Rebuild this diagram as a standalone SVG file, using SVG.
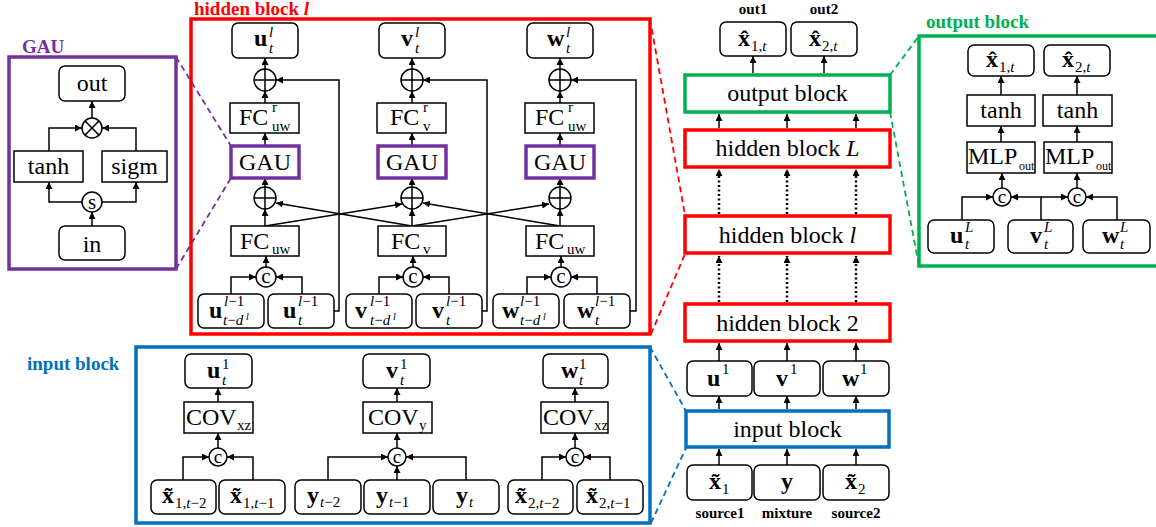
<svg xmlns="http://www.w3.org/2000/svg" width="1156" height="527" viewBox="0 0 1156 527">
<defs>
<marker id="ah" viewBox="0 0 10 10" refX="10" refY="5" markerWidth="7" markerHeight="7" markerUnits="userSpaceOnUse" orient="auto"><path d="M0,0 L10,5 L0,10 z" fill="#000"/></marker>
<style>
text{font-family:"Liberation Serif","Times New Roman",serif;fill:#000}
.bx{fill:#fff;stroke:#000;stroke-width:1.5}
.ln{fill:none;stroke:#000;stroke-width:1.5}
.ar{fill:none;stroke:#000;stroke-width:1.5;marker-end:url(#ah)}
.dt{fill:none;stroke:#000;stroke-width:2.5;stroke-dasharray:2 2.5;marker-end:url(#ah)}
.cir{fill:#fff;stroke:#000;stroke-width:1.5}
.m{font-size:24px}
.c{text-anchor:middle}
.bd{font-weight:bold}
.s{font-size:15px}
.ss{font-size:10px}
.it{font-style:italic}
.red{fill:none;stroke:#FF0000;stroke-width:3.5}
.grn{fill:none;stroke:#00B050;stroke-width:3.5}
.blu{fill:none;stroke:#0070C0;stroke-width:3.5}
.pur{fill:none;stroke:#7030A0;stroke-width:3.5}
.gaub{fill:#fff;stroke:#7030A0;stroke-width:3.5}
.dr{fill:none;stroke:#FF0000;stroke-width:1.8;stroke-dasharray:6 4}
.dg{fill:none;stroke:#00B050;stroke-width:1.8;stroke-dasharray:6 4}
.db{fill:none;stroke:#0070C0;stroke-width:1.8;stroke-dasharray:6 4}
.dp{fill:none;stroke:#7030A0;stroke-width:1.8;stroke-dasharray:6 4}
.ttl{font-size:19px;font-weight:bold}
.lab{font-size:15px;font-weight:bold;text-anchor:middle}
</style>
</defs>

<!-- connectors -->
<g id="connectors">
  <path class="dp" d="M176,57 L231,146 M176,269 L231,178"/>
  <path class="dr" d="M650,19 L685,215 M651,334 L685,254"/>
  <path class="dg" d="M890,75 L919,36 M890,112 L919,266"/>
  <path class="db" d="M650,347 L686,411 M651,523 L686,448"/>

  <path class="ar" d="M92,226 V212"/>
  <path class="ar" d="M82,202 H49 V182"/>
  <path class="ar" d="M102,202 H136 V182"/>
  <path class="ar" d="M49,151 V128 H82"/>
  <path class="ar" d="M136,151 V128 H102"/>
  <path class="ar" d="M92,118 V101"/>

  <path class="ar" d="M265,69 V58"/>
  <path class="ar" d="M265,103 V91"/>
  <path class="ar" d="M265,146 V133"/>
  <path class="ar" d="M265,187 V178"/>
  <path class="ar" d="M265,226 V209"/>
  <path class="ar" d="M266,267 V256"/>
  <path class="ar" d="M231,294 V277 H256"/>
  <path class="ar" d="M302,294 V277 H276"/>
  <path class="ar" d="M334,311 H339 V80 H276"/>
  <path class="ar" d="M412,69 V58"/>
  <path class="ar" d="M412,103 V91"/>
  <path class="ar" d="M412,146 V133"/>
  <path class="ar" d="M412,187 V178"/>
  <path class="ar" d="M412,226 V209"/>
  <path class="ar" d="M413,267 V256"/>
  <path class="ar" d="M379,294 V277 H403"/>
  <path class="ar" d="M449,294 V277 H423"/>
  <path class="ar" d="M482,311 H487 V80 H423"/>
  <path class="ar" d="M560,69 V58"/>
  <path class="ar" d="M560,103 V91"/>
  <path class="ar" d="M560,146 V133"/>
  <path class="ar" d="M560,187 V178"/>
  <path class="ar" d="M560,226 V209"/>
  <path class="ar" d="M561,267 V256"/>
  <path class="ar" d="M527,294 V277 H551"/>
  <path class="ar" d="M597,294 V277 H571"/>
  <path class="ar" d="M630,311 H636 V80 H571"/>
  <path class="ar" d="M265,226 L402,204"/>
  <path class="ar" d="M412,226 L276,203"/>
  <path class="ar" d="M412,226 L549,204"/>
  <path class="ar" d="M560,226 L423,203"/>

  <path class="ar" d="M218,448 V433"/>
  <path class="ar" d="M218,402 V388"/>
  <path class="ar" d="M183,480 V457 H209"/>
  <path class="ar" d="M253,480 V457 H227"/>
  <path class="ar" d="M397,448 V433"/>
  <path class="ar" d="M397,402 V388"/>
  <path class="ar" d="M328,480 V457 H388"/>
  <path class="ar" d="M397,480 V466"/>
  <path class="ar" d="M466,480 V457 H406"/>
  <path class="ar" d="M575,448 V433"/>
  <path class="ar" d="M575,402 V388"/>
  <path class="ar" d="M542,480 V457 H566"/>
  <path class="ar" d="M610,480 V457 H584"/>

  <path class="ar" d="M719,465 V449"/>
  <path class="ar" d="M787,465 V449"/>
  <path class="ar" d="M856,465 V449"/>
  <path class="ar" d="M719,409 V396"/>
  <path class="ar" d="M787,409 V396"/>
  <path class="ar" d="M856,409 V396"/>
  <path class="ar" d="M719,361 V343"/>
  <path class="ar" d="M787,361 V343"/>
  <path class="ar" d="M856,361 V343"/>
  <path class="dt" d="M719,302 V256"/>
  <path class="dt" d="M787,302 V256"/>
  <path class="dt" d="M856,302 V256"/>
  <path class="dt" d="M719,214 V169"/>
  <path class="dt" d="M787,214 V169"/>
  <path class="dt" d="M856,214 V169"/>
  <path class="ar" d="M719,128 V114"/>
  <path class="ar" d="M787,128 V114"/>
  <path class="ar" d="M856,128 V114"/>
  <path class="ar" d="M753,73 V56"/>
  <path class="ar" d="M824,73 V56"/>

  <path class="ar" d="M962,220 V197 H993"/>
  <path class="ar" d="M1041,220 V197 H1011"/>
  <path class="ar" d="M1041,197 H1068"/>
  <path class="ar" d="M1117,220 V197 H1086"/>
  <path class="ar" d="M1002,188 V173"/>
  <path class="ar" d="M1077,188 V173"/>
  <path class="ar" d="M1001,142 V126"/>
  <path class="ar" d="M1077,142 V126"/>
  <path class="ar" d="M1001,95 V76"/>
  <path class="ar" d="M1077,95 V76"/>
</g>

<g id="gau-detail">
  <rect class="pur" x="9" y="57" width="167" height="212"/>
  <text x="22" y="53" class="ttl" style="fill:#7030A0">GAU</text>
  <rect class="bx" x="59" y="66" width="66" height="35" rx="6"/>
  <text x="92" y="91" class="m c">out</text>
  <g id="gau-mul"><circle class="cir" cx="92" cy="128" r="10"/><path class="ln" d="M85,121 L99,135 M99,121 L85,135"/></g>
  <rect class="bx" x="14" y="151" width="69" height="31"/>
  <text x="48.5" y="174" class="m c">tanh</text>
  <rect class="bx" x="102" y="151" width="65" height="31"/>
  <text x="134.5" y="174" class="m c">sigm</text>
  <g id="gau-s"><circle class="cir" cx="92" cy="202" r="10"/><text x="92" y="209" class="c" style="font-size:21px">s</text></g>
  <rect class="bx" x="59" y="226" width="66" height="34" rx="6"/>
  <text x="92" y="252" class="m c">in</text>
</g>

<g id="hidden-detail">
  <rect class="red" x="191" y="19" width="459" height="315"/>
  <text x="194" y="15" class="ttl" style="fill:#FF0000">hidden block <tspan class="it">l</tspan></text>

  <g id="h-u-out"><rect class="bx" x="232" y="23" width="66" height="35" rx="6"/>
    <text x="254" y="46" class="m bd">u</text><text x="269" y="37" class="s it">l</text><text x="269" y="53" class="s it">t</text></g>
  <g id="h-u-add1"><circle class="cir" cx="265" cy="80" r="11"/><path class="ln" d="M254,80 H276 M265,69 V91"/></g>
  <g id="h-u-fcr"><rect class="bx" x="230" y="103" width="69" height="30"/>
    <text x="239" y="125" class="m">FC</text><text x="272" y="112" class="s">r</text><text x="272" y="131" class="s">uw</text></g>
  <g id="h-u-gau"><rect class="gaub" x="231" y="146" width="68" height="32"/><text x="265" y="170" class="m c">GAU</text></g>
  <g id="h-u-add2"><circle class="cir" cx="265" cy="198" r="11"/><path class="ln" d="M254,198 H276 M265,187 V209"/></g>
  <g id="h-u-fc"><rect class="bx" x="231" y="226" width="68" height="30"/>
    <text x="240" y="249" class="m">FC</text><text x="272" y="254" class="s">uw</text></g>
  <g id="h-u-cat"><circle class="cir" cx="266" cy="277" r="10"/><text x="266" y="283" class="c" style="font-size:21px">c</text></g>
  <g id="h-u-prev"><rect class="bx" x="198" y="294" width="66" height="34" rx="6"/>
    <text x="209" y="318" class="m bd">u</text><text x="224" y="306" class="s"><tspan class="it">l</tspan>−1</text><text x="223" y="325" class="s"><tspan class="it">t</tspan>−<tspan class="it">d</tspan></text><text x="246" y="320" class="ss it">l</text></g>
  <g id="h-u-cur"><rect class="bx" x="268" y="294" width="66" height="34" rx="6"/>
    <text x="283" y="318" class="m bd">u</text><text x="298" y="306" class="s"><tspan class="it">l</tspan>−1</text><text x="298" y="325" class="s it">t</text></g>

  <g id="h-v-out"><rect class="bx" x="379" y="23" width="66" height="35" rx="6"/>
    <text x="401" y="46" class="m bd">v</text><text x="415" y="37" class="s it">l</text><text x="415" y="53" class="s it">t</text></g>
  <g id="h-v-add1"><circle class="cir" cx="412" cy="80" r="11"/><path class="ln" d="M401,80 H423 M412,69 V91"/></g>
  <g id="h-v-fcr"><rect class="bx" x="377" y="103" width="69" height="30"/>
    <text x="390" y="125" class="m">FC</text><text x="423" y="112" class="s">r</text><text x="423" y="131" class="s">v</text></g>
  <g id="h-v-gau"><rect class="gaub" x="378" y="146" width="68" height="32"/><text x="412" y="170" class="m c">GAU</text></g>
  <g id="h-v-add2"><circle class="cir" cx="412" cy="198" r="11"/><path class="ln" d="M401,198 H423 M412,187 V209"/></g>
  <g id="h-v-fc"><rect class="bx" x="378" y="226" width="68" height="30"/>
    <text x="391" y="249" class="m">FC</text><text x="423" y="254" class="s">v</text></g>
  <g id="h-v-cat"><circle class="cir" cx="413" cy="277" r="10"/><text x="413" y="283" class="c" style="font-size:21px">c</text></g>
  <g id="h-v-prev"><rect class="bx" x="346" y="294" width="66" height="34" rx="6"/>
    <text x="355" y="318" class="m bd">v</text><text x="370" y="306" class="s"><tspan class="it">l</tspan>−1</text><text x="370" y="325" class="s"><tspan class="it">t</tspan>−<tspan class="it">d</tspan></text><text x="393" y="320" class="ss it">l</text></g>
  <g id="h-v-cur"><rect class="bx" x="416" y="294" width="66" height="34" rx="6"/>
    <text x="432" y="318" class="m bd">v</text><text x="446" y="306" class="s"><tspan class="it">l</tspan>−1</text><text x="446" y="325" class="s it">t</text></g>

  <g id="h-w-out"><rect class="bx" x="527" y="23" width="66" height="35" rx="6"/>
    <text x="547" y="46" class="m bd">w</text><text x="566" y="37" class="s it">l</text><text x="566" y="53" class="s it">t</text></g>
  <g id="h-w-add1"><circle class="cir" cx="560" cy="80" r="11"/><path class="ln" d="M549,80 H571 M560,69 V91"/></g>
  <g id="h-w-fcr"><rect class="bx" x="525" y="103" width="69" height="30"/>
    <text x="535" y="125" class="m">FC</text><text x="568" y="112" class="s">r</text><text x="568" y="131" class="s">uw</text></g>
  <g id="h-w-gau"><rect class="gaub" x="526" y="146" width="68" height="32"/><text x="560" y="170" class="m c">GAU</text></g>
  <g id="h-w-add2"><circle class="cir" cx="560" cy="198" r="11"/><path class="ln" d="M549,198 H571 M560,187 V209"/></g>
  <g id="h-w-fc"><rect class="bx" x="526" y="226" width="68" height="30"/>
    <text x="535" y="249" class="m">FC</text><text x="567" y="254" class="s">uw</text></g>
  <g id="h-w-cat"><circle class="cir" cx="561" cy="277" r="10"/><text x="561" y="283" class="c" style="font-size:21px">c</text></g>
  <g id="h-w-prev"><rect class="bx" x="493" y="294" width="66" height="34" rx="6"/>
    <text x="502" y="318" class="m bd">w</text><text x="520" y="306" class="s"><tspan class="it">l</tspan>−1</text><text x="520" y="325" class="s"><tspan class="it">t</tspan>−<tspan class="it">d</tspan></text><text x="543" y="320" class="ss it">l</text></g>
  <g id="h-w-cur"><rect class="bx" x="564" y="294" width="66" height="34" rx="6"/>
    <text x="577" y="318" class="m bd">w</text><text x="595" y="306" class="s"><tspan class="it">l</tspan>−1</text><text x="595" y="325" class="s it">t</text></g>
</g>

<g id="input-detail">
  <rect class="blu" x="136" y="347" width="514" height="176"/>
  <text x="27" y="370" class="ttl" style="fill:#0070C0">input block</text>

  <g id="i-u-out"><rect class="bx" x="185" y="354" width="67" height="34" rx="6"/>
    <text x="207" y="378" class="m bd">u</text><text x="222" y="369" class="s">1</text><text x="222" y="385" class="s it">t</text></g>
  <g id="i-u-cov"><rect class="bx" x="184" y="402" width="69" height="31"/>
    <text x="186" y="425" class="m">COV</text><text x="237" y="430" class="s">xz</text></g>
  <g id="i-u-cat"><circle class="cir" cx="218" cy="457" r="9"/><text x="218" y="463" class="c" style="font-size:19px">c</text></g>
  <g id="i-u-a"><rect class="bx" x="151" y="480" width="65" height="34" rx="6"/>
    <text x="162" y="503" class="m bd">x̃</text><text x="175" y="508" class="s">1,<tspan class="it">t</tspan>−2</text></g>
  <g id="i-u-b"><rect class="bx" x="219" y="480" width="66" height="34" rx="6"/>
    <text x="230" y="503" class="m bd">x̃</text><text x="243" y="508" class="s">1,<tspan class="it">t</tspan>−1</text></g>

  <g id="i-v-out"><rect class="bx" x="363" y="354" width="67" height="34" rx="6"/>
    <text x="386" y="378" class="m bd">v</text><text x="400" y="369" class="s">1</text><text x="400" y="385" class="s it">t</text></g>
  <g id="i-v-cov"><rect class="bx" x="363" y="402" width="69" height="31"/>
    <text x="368" y="425" class="m">COV</text><text x="419" y="430" class="s">y</text></g>
  <g id="i-v-cat"><circle class="cir" cx="397" cy="457" r="9"/><text x="397" y="463" class="c" style="font-size:19px">c</text></g>
  <g id="i-v-a"><rect class="bx" x="295" y="480" width="66" height="34" rx="6"/>
    <text x="307" y="503" class="m bd">y</text><text x="320" y="507" class="s"><tspan class="it">t</tspan>−2</text></g>
  <g id="i-v-b"><rect class="bx" x="364" y="480" width="66" height="34" rx="6"/>
    <text x="376" y="503" class="m bd">y</text><text x="389" y="507" class="s"><tspan class="it">t</tspan>−1</text></g>
  <g id="i-v-c"><rect class="bx" x="433" y="480" width="66" height="34" rx="6"/>
    <text x="456" y="503" class="m bd">y</text><text x="469" y="507" class="s it">t</text></g>

  <g id="i-w-out"><rect class="bx" x="543" y="354" width="65" height="34" rx="6"/>
    <text x="561" y="378" class="m bd">w</text><text x="579" y="369" class="s">1</text><text x="579" y="385" class="s it">t</text></g>
  <g id="i-w-cov"><rect class="bx" x="541" y="402" width="67" height="31"/>
    <text x="543" y="425" class="m">COV</text><text x="594" y="430" class="s">xz</text></g>
  <g id="i-w-cat"><circle class="cir" cx="575" cy="457" r="9"/><text x="575" y="463" class="c" style="font-size:19px">c</text></g>
  <g id="i-w-a"><rect class="bx" x="508" y="480" width="65" height="34" rx="6"/>
    <text x="515" y="503" class="m bd">x̃</text><text x="528" y="508" class="s">2,<tspan class="it">t</tspan>−2</text></g>
  <g id="i-w-b"><rect class="bx" x="577" y="480" width="66" height="34" rx="6"/>
    <text x="586" y="503" class="m bd">x̃</text><text x="599" y="508" class="s">2,<tspan class="it">t</tspan>−1</text></g>
</g>

<g id="network">
  <text x="753" y="14" class="lab">out1</text>
  <text x="824" y="14" class="lab">out2</text>
  <g id="n-out1"><rect class="bx" x="720" y="22" width="66" height="34" rx="6"/>
    <text x="738" y="46" class="m bd">x̂</text><text x="751" y="51" class="s">1,<tspan class="it">t</tspan></text></g>
  <g id="n-out2"><rect class="bx" x="791" y="22" width="66" height="34" rx="6"/>
    <text x="809" y="46" class="m bd">x̂</text><text x="822" y="51" class="s">2,<tspan class="it">t</tspan></text></g>
  <g id="n-output"><rect class="grn" x="685" y="75" width="205" height="37" style="fill:#fff"/>
    <text x="787.5" y="101" class="m c">output block</text></g>
  <g id="n-hL"><rect class="red" x="685" y="130" width="205" height="37" style="fill:#fff"/>
    <text x="787.5" y="156" class="m c">hidden block <tspan class="it">L</tspan></text></g>
  <g id="n-hl"><rect class="red" x="685" y="216" width="205" height="37" style="fill:#fff"/>
    <text x="787.5" y="243" class="m c">hidden block <tspan class="it">l</tspan></text></g>
  <g id="n-h2"><rect class="red" x="685" y="304" width="205" height="37" style="fill:#fff"/>
    <text x="787.5" y="331" class="m c">hidden block 2</text></g>
  <g id="n-u1"><rect class="bx" x="687" y="361" width="65" height="35" rx="6"/>
    <text x="707" y="386" class="m bd">u</text><text x="722" y="374" class="s">1</text></g>
  <g id="n-v1"><rect class="bx" x="754" y="361" width="66" height="35" rx="6"/>
    <text x="776" y="386" class="m bd">v</text><text x="790" y="374" class="s">1</text></g>
  <g id="n-w1"><rect class="bx" x="823" y="361" width="66" height="35" rx="6"/>
    <text x="842" y="386" class="m bd">w</text><text x="860" y="374" class="s">1</text></g>
  <g id="n-input"><rect class="blu" x="686" y="411" width="203" height="36" style="fill:#fff"/>
    <text x="787.5" y="437" class="m c">input block</text></g>
  <g id="n-s1"><rect class="bx" x="687" y="465" width="65" height="35" rx="6"/>
    <text x="709" y="489" class="m bd">x̃</text><text x="722" y="494" class="s">1</text></g>
  <g id="n-mix"><rect class="bx" x="754" y="465" width="66" height="35" rx="6"/>
    <text x="787" y="489" class="m bd c">y</text></g>
  <g id="n-s2"><rect class="bx" x="823" y="465" width="66" height="35" rx="6"/>
    <text x="845" y="489" class="m bd">x̃</text><text x="858" y="494" class="s">2</text></g>
  <text x="720" y="518" class="lab">source1</text>
  <text x="787" y="518" class="lab">mixture</text>
  <text x="856" y="518" class="lab">source2</text>
</g>

<g id="output-detail">
  <rect class="grn" x="919" y="36" width="250" height="230"/>
  <text x="926" y="28" class="ttl" style="fill:#00B050">output block</text>
  <g id="o-x1"><rect class="bx" x="968" y="45" width="66" height="31" rx="6"/>
    <text x="986" y="67" class="m bd">x̂</text><text x="999" y="72" class="s">1,<tspan class="it">t</tspan></text></g>
  <g id="o-x2"><rect class="bx" x="1044" y="45" width="66" height="31" rx="6"/>
    <text x="1062" y="67" class="m bd">x̂</text><text x="1075" y="72" class="s">2,<tspan class="it">t</tspan></text></g>
  <g id="o-tanh1"><rect class="bx" x="967" y="95" width="68" height="31"/><text x="1001" y="118" class="m c">tanh</text></g>
  <g id="o-tanh2"><rect class="bx" x="1043" y="95" width="69" height="31"/><text x="1077.5" y="118" class="m c">tanh</text></g>
  <g id="o-mlp1"><rect class="bx" x="967" y="142" width="68" height="31"/>
    <text x="968" y="164" class="m">MLP</text><text x="1019" y="170" style="font-size:12px">out</text></g>
  <g id="o-mlp2"><rect class="bx" x="1044" y="142" width="68" height="31"/>
    <text x="1045" y="164" class="m">MLP</text><text x="1096" y="170" style="font-size:12px">out</text></g>
  <g id="o-cat1"><circle class="cir" cx="1002" cy="197" r="9"/><text x="1002" y="203" class="c" style="font-size:19px">c</text></g>
  <g id="o-cat2"><circle class="cir" cx="1077" cy="197" r="9"/><text x="1077" y="203" class="c" style="font-size:19px">c</text></g>
  <g id="o-u"><rect class="bx" x="928" y="220" width="66" height="33" rx="6"/>
    <text x="950" y="243" class="m bd">u</text><text x="965" y="232" class="s it">L</text><text x="965" y="249" class="s it">t</text></g>
  <g id="o-v"><rect class="bx" x="1008" y="220" width="65" height="33" rx="6"/>
    <text x="1030" y="243" class="m bd">v</text><text x="1044" y="232" class="s it">L</text><text x="1044" y="249" class="s it">t</text></g>
  <g id="o-w"><rect class="bx" x="1083" y="220" width="67" height="33" rx="6"/>
    <text x="1102" y="243" class="m bd">w</text><text x="1120" y="232" class="s it">L</text><text x="1120" y="249" class="s it">t</text></g>
</g>
</svg>
